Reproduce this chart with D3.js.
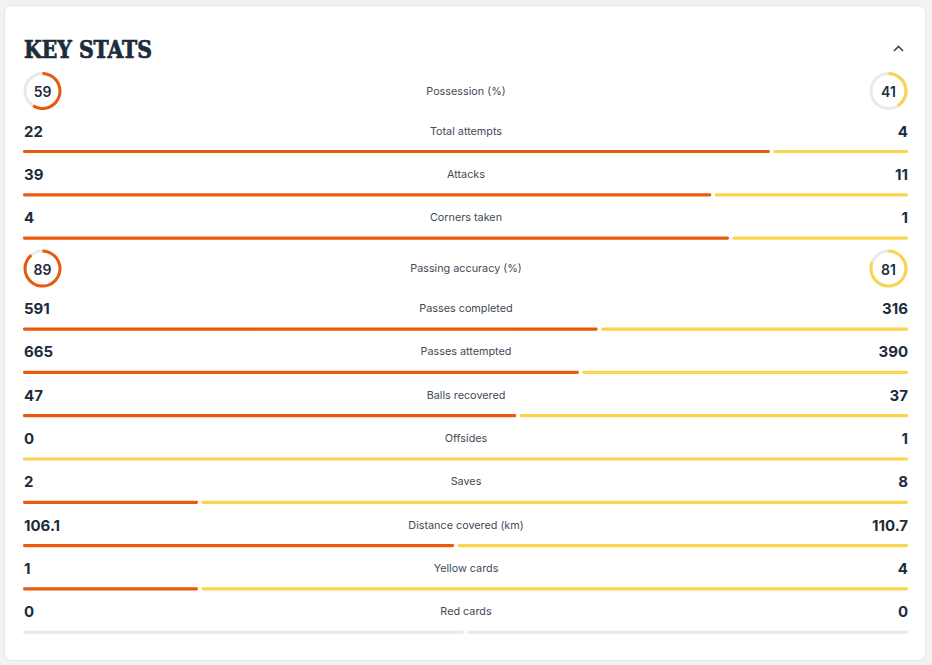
<!DOCTYPE html>
<html><head><meta charset="utf-8">
<script src="https://cdn.jsdelivr.net/npm/d3@7"></script>
<style>
html,body{margin:0;padding:0;background:#f2f2f2;}
svg{display:block;}
</style></head>
<body>
<svg id="chart" width="932" height="665"></svg>
<script>
const statLabels = ["Possession (%)","Total attempts","Attacks","Corners taken","Passing accuracy (%)","Passes completed","Passes attempted","Balls recovered","Offsides","Saves","Distance covered (km)","Yellow cards","Red cards"];
const homeValues = [59,22,39,4,89,591,665,47,0,2,106.1,1,0];
const awayValues = [41,4,11,1,81,316,390,37,1,8,110.7,4,0];
const statKinds = ["ring","bar","bar","bar","ring","bar","bar","bar","bar","bar","bar","bar","bar"];
const homeLabels = ["59","22","39","4","89","591","665","47","0","2","106.1","1","0"];
const awayLabels = ["41","4","11","1","81","316","390","37","1","8","110.7","4","0"];

const ORANGE = "#e85a0d", YELLOW = "#f9d44c", TRACK = "#e9e9e9", INK = "#1c2c3b", LABEL = "#3f4a56";
const svg = d3.select("#chart");

// card
svg.append("rect").attr("x",4.5).attr("y",5.5).attr("width",921).attr("height",655)
  .attr("rx",7).attr("fill","#fff").attr("stroke","#e6e6e6");

svg.append("text").attr("x",24).attr("y",58)
  .attr("font-family","'DejaVu Serif Condensed','DejaVu Serif',serif").attr("font-weight","bold")
  .attr("font-size",24).attr("fill",INK).attr("stroke",INK).attr("stroke-width",0.7)
  .attr("textLength",128).attr("lengthAdjust","spacingAndGlyphs")
  .text("KEY STATS");
svg.append("path").attr("d","M894,51 L898.5,46.5 L903,51").attr("fill","none")
  .attr("stroke","#3a4652").attr("stroke-width",1.6);

// row layout
const rows = [];
let y = 91;
statLabels.forEach((lab,i)=>{
  if(i>0){
    if(statKinds[i]==="ring") y += 51;
    else if(statKinds[i-1]==="ring") y += 40;
    else y += 43.3;
  }
  rows.push({label:lab, h:homeValues[i], a:awayValues[i], hl:homeLabels[i], al:awayLabels[i], kind:statKinds[i], y:y});
});

const X0 = 23, X1 = 908;
const numFont = "Inter, 'Open Sans', sans-serif";

rows.forEach(r=>{
  const g = svg.append("g");
  g.append("text").attr("x",466).attr("y",r.y).attr("text-anchor","middle").attr("dominant-baseline","central")
    .attr("font-family","Inter, 'Open Sans', sans-serif").attr("font-size",10.8).attr("fill",LABEL).text(r.label);
  if(r.kind==="ring"){
    const rr = 17.5;
    const arc = d3.arc().innerRadius(rr-1.5).outerRadius(rr+1.5);
    const sc = d3.scaleLinear().domain([0,100]).range([0,2*Math.PI]);
    [[42.5,r.h,ORANGE,r.hl],[888.5,r.a,YELLOW,r.al]].forEach(([cx,v,col,t])=>{
      const c = g.append("g").attr("transform",`translate(${cx},${r.y})`);
      c.append("path").attr("d",arc({startAngle:0,endAngle:2*Math.PI})).attr("fill",TRACK);
      c.append("path").attr("d",arc({startAngle:0,endAngle:sc(v)})).attr("fill",col);
      c.append("text").attr("text-anchor","middle").attr("dominant-baseline","central").attr("y",0.5)
        .attr("font-family",numFont).attr("font-weight",600).attr("font-size",14).attr("fill",INK).text(t);
    });
  } else {
    g.append("text").attr("x",24).attr("y",r.y).attr("dominant-baseline","central")
      .attr("font-family",numFont).attr("font-weight",700).attr("font-size",15).attr("fill",INK).text(r.hl);
    g.append("text").attr("x",908).attr("y",r.y).attr("text-anchor","end").attr("dominant-baseline","central")
      .attr("font-family",numFont).attr("font-weight",700).attr("font-size",15).attr("fill",INK).text(r.al);
    const by = r.y + 20.5;
    const tot = r.h + r.a;
    const xs = d3.scaleLinear().domain([0, tot>0?tot:2]).range([X0,X1]);
    const split = tot>0 ? xs(r.h) : xs(1);
    const segs = [];
    const cl = tot>0 ? ORANGE : TRACK, cr = tot>0 ? YELLOW : TRACK;
    if(tot===0 || r.h>0) segs.push([X0, r.a>0||tot===0 ? split-2 : X1, cl]);
    if(tot===0 || r.a>0) segs.push([r.h>0||tot===0 ? split+1.5 : X0, X1, cr]);
    segs.forEach(s=>{
      g.append("rect").attr("x",s[0]).attr("width",s[1]-s[0]).attr("y",by-1.6).attr("height",3.2)
        .attr("rx",1.4).attr("fill",s[2]);
    });
  }
});
</script>
</body></html>
